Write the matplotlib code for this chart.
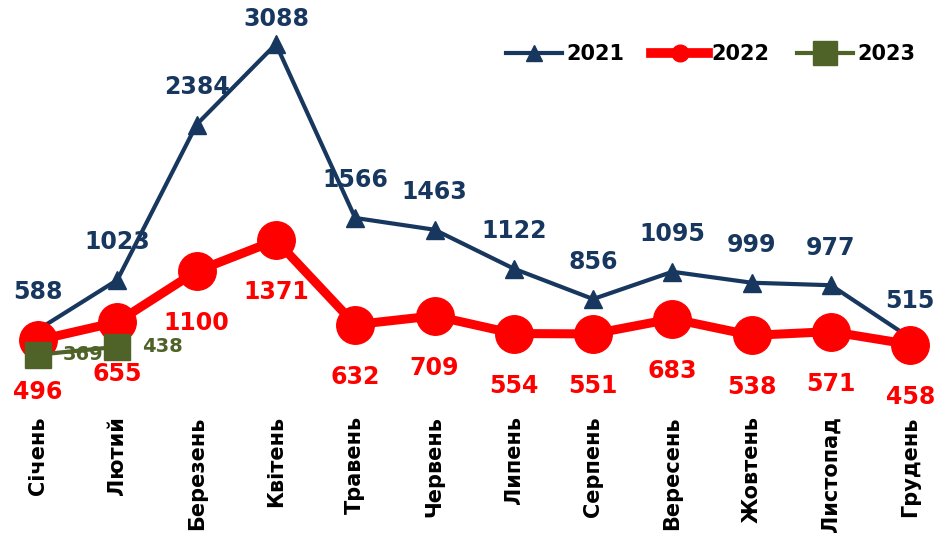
import matplotlib.pyplot as plt
import numpy as np

# --- Daten ---
months = ["Січень", "Лютий", "Березень", "Квітень", "Травень", "Червень",
          "Липень", "Серпень", "Вересень", "Жовтень", "Листопад", "Грудень"]
v2021 = [588, 1023, 2384, 3088, 1566, 1463, 1122, 856, 1095, 999, 977, 515]
v2022 = [496, 655, 1100, 1371, 632, 709, 554, 551, 683, 538, 571, 458]
v2023 = [369, 438]

c2021 = "#17375E"
c2022 = "#FF0000"
c2023 = "#4F6228"

plt.rcParams['font.family'] = ['DejaVu Sans']
plt.rcParams['font.weight'] = 'bold'

fig = plt.figure(figsize=(9.35, 5.37), dpi=100)
ax = fig.add_axes([0.011, 0.261, 0.988, 0.702])

x = np.arange(len(months))
ax.plot(x, v2021, color=c2021, lw=3, marker='^', ms=13, label="2021", zorder=2)
ax.plot(x, v2022, color=c2022, lw=6.5, marker='o', ms=27, label="2022", zorder=3)
x23 = np.arange(len(v2023))
ax.plot(x23, v2023, color=c2023, lw=3, marker='s', ms=19, label="2023", zorder=4)

for xi, v in zip(x, v2021):
    # oberstes Label etwas näher, damit es im Bild bleibt
    dy = 18 if v == max(v2021) else 27
    ax.annotate(str(v), (xi, v), xytext=(0, dy), textcoords='offset points',
                ha='center', va='center', fontsize=17, fontweight='bold',
                color=c2021, annotation_clip=False)
for xi, v in zip(x, v2022):
    ax.annotate(str(v), (xi, v), xytext=(0, -37.5), textcoords='offset points',
                ha='center', va='center', fontsize=17, fontweight='bold',
                color=c2022, annotation_clip=False, zorder=5)
for xi, v in zip(x23, v2023):
    ax.annotate(str(v), (xi, v), xytext=(18, 0), textcoords='offset points',
                ha='left', va='center', fontsize=14, fontweight='bold',
                color=c2023, annotation_clip=False, zorder=3.5)

ax.set_xlim(-0.35, 11.3)
ax.set_ylim(0, 3300)
ax.set_xticks(x)
ax.set_xticklabels(months, rotation=90, fontsize=15, fontweight='bold')
ax.tick_params(axis='x', length=0, pad=14)
ax.set_yticks([])
for s in ax.spines.values():
    s.set_visible(False)

leg = ax.legend(loc='upper right', bbox_to_anchor=(1.0, 0.985), ncol=3, frameon=False,
                prop={'size': 15, 'weight': 'bold'},
                handlelength=2.7, columnspacing=1.3, handletextpad=0.2)
h21, h22, h23 = leg.legend_handles
h21.set_markersize(12)
h22.set_markersize(12)
h22.set_linewidth(7)
h23.set_markersize(17)

fig.savefig("out.png", dpi=100)
